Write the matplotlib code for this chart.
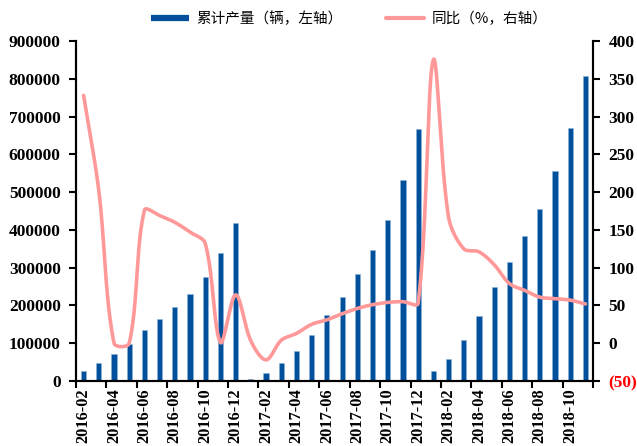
import matplotlib
matplotlib.use("Agg")
import matplotlib.pyplot as plt
from matplotlib.lines import Line2D
import numpy as np
import pandas as pd

months = pd.period_range("2016-02", "2018-11", freq="M").strftime("%Y-%m").tolist()

# cumulative output (vehicles), left axis
production = [27000, 47000, 71000, 99000, 135000, 163000, 196000, 230000, 276000, 340000, 417000,
              6000, 20000, 48000, 79000, 122000, 176000, 223000, 284000, 348000, 427000, 532000, 667000,
              27000, 57000, 108000, 173000, 250000, 314000, 383000, 455000, 555000, 671000, 807000]

# year-on-year growth (%), right axis
yoy = [328, 202, 0, 0, 176, 169, 160, 147, 132, 1, 64,
       3, -22, 4, 13, 25, 31, 39, 46, 51, 54, 55, 53,
       375, 167, 125, 121, 104, 79, 70, 61, 59, 57, 52]

left_ticks = np.arange(0, 900001, 100000)
right_ticks = np.arange(-50, 401, 50)

BAR_COLOR = "#00509b"
LINE_COLOR = "#ff9999"
TICK_FONT = dict(family="Liberation Serif", weight="bold", size=12.5)


def smooth_curve(x, y, sx, sy, n=40):
    """Bezier smoothing in screen space, tangents weighted by chord lengths."""
    P = np.column_stack([np.asarray(x, float) * sx, np.asarray(y, float) * sy])
    pts = [P[:1]]
    t = np.linspace(0, 1, n)[1:, None]
    for i in range(len(P) - 1):
        p0 = P[i - 1] if i > 0 else P[i]
        p1, p2 = P[i], P[i + 1]
        p3 = P[i + 2] if i + 2 < len(P) else P[i + 1]
        d01, d12, d23 = (np.linalg.norm(p1 - p0), np.linalg.norm(p2 - p1),
                         np.linalg.norm(p3 - p2))
        c1 = p1 + (p2 - p0) * d12 / (d01 + d12) / 3
        c2 = p2 - (p3 - p1) * d12 / (d12 + d23) / 3
        seg = ((1 - t) ** 3 * p1 + 3 * (1 - t) ** 2 * t * c1
               + 3 * (1 - t) * t ** 2 * c2 + t ** 3 * p2)
        pts.append(seg)
    out = np.vstack(pts)
    return out[:, 0] / sx, out[:, 1] / sy


fig = plt.figure(figsize=(6.37, 4.46), dpi=100)
ax = fig.add_axes([76 / 637, 1 - 381 / 446, 517 / 637, 340 / 446])
ax2 = ax.twinx()

x = np.arange(len(months))
ax.bar(x, production, width=0.34, color=BAR_COLOR, edgecolor="#8cb2dc", linewidth=0.4)

lx, ly = smooth_curve(x, yoy, 15.2, 1 / 1.3235)
ax2.plot(lx, ly, color=LINE_COLOR, lw=2.6, solid_capstyle="round", solid_joinstyle="round")

ax.set_xlim(-0.5, len(months) - 0.5)
ax.set_ylim(0, 900000)
ax2.set_ylim(-50, 400)

for a in (ax, ax2):
    a.spines["top"].set_visible(False)
    for s in ("left", "right", "bottom"):
        a.spines[s].set_linewidth(1.5)
        a.spines[s].set_color("black")

ax.set_yticks(left_ticks)
ax.set_yticklabels([str(v) for v in left_ticks], **TICK_FONT)
ax.tick_params(axis="y", direction="out", length=5, width=1.5, pad=6)

ax2.set_yticks(right_ticks)
ax2.set_yticklabels([f"({abs(v)})" if v < 0 else str(v) for v in right_ticks], **TICK_FONT)
ax2.tick_params(axis="y", direction="out", length=5, width=1.5, pad=6)
for lbl, v in zip(ax2.get_yticklabels(), right_ticks):
    if v < 0:
        lbl.set_color("red")

# tick marks between every second category, labels on the categories
ax.set_xticks(np.arange(-0.5, len(months), 2))
ax.set_xticklabels([])
ax.tick_params(axis="x", which="major", direction="out", length=5, width=1.5)
ax.set_xticks(x[::2], minor=True)
ax.set_xticklabels(months[::2], minor=True, rotation=90,
                   family="Liberation Serif", weight="bold", size=11.8)
ax.tick_params(axis="x", which="minor", length=0, pad=5)

handles = [Line2D([], [], color=BAR_COLOR, lw=4.5, solid_capstyle="butt"),
           Line2D([], [], color=LINE_COLOR, lw=3, solid_capstyle="round")]
fig.legend(handles, ["累计产量（辆，左轴）", "同比（%，右轴）"], loc="center",
           bbox_to_anchor=(349 / 637, 1 - 19 / 446), ncol=2, frameon=False,
           handlelength=2.6, handletextpad=0.5, columnspacing=3.0,
           prop=dict(family=["Noto Sans CJK SC", "DejaVu Sans"], size=10.5))

fig.savefig("out.png", dpi=100)
